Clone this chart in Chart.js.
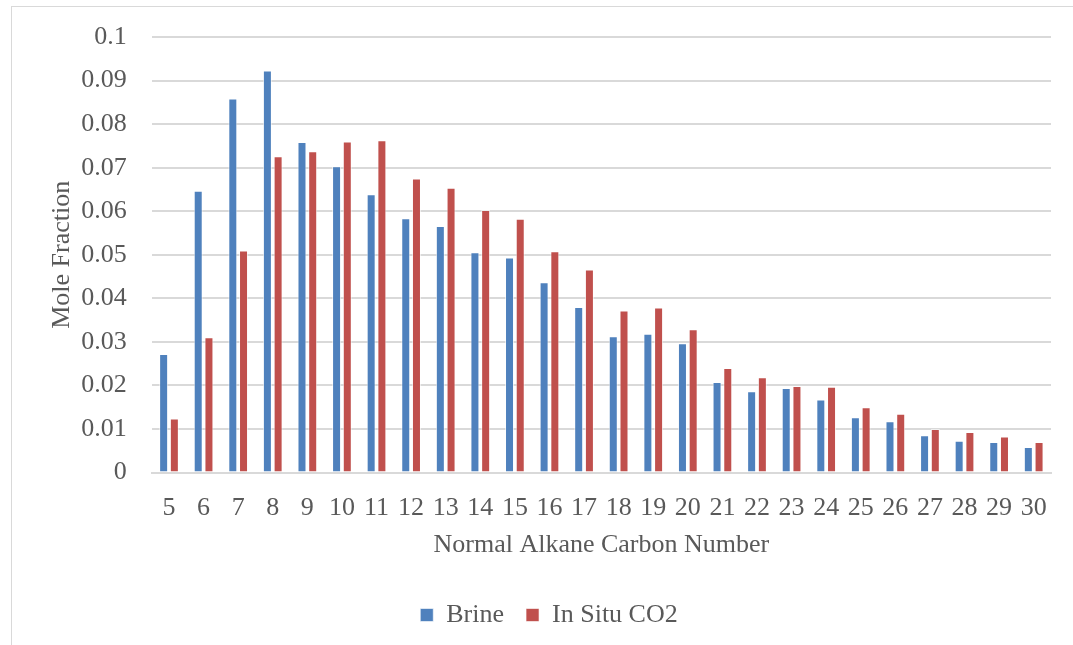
<!DOCTYPE html>
<html>
<head>
<meta charset="utf-8">
<script src="https://cdn.jsdelivr.net/npm/chart.js@4"></script>
<style>
  body { margin: 0; background: #fff; }
  #wrap {
    position: absolute; left: 11px; top: 6px;
    width: 1070px; height: 645px;
    border: 1px solid #d9d9d9;
  }
</style>
</head>
<body>
<div id="wrap"><canvas id="chart"></canvas></div>
<script>
// data
const carbonNumbers = ["5","6","7","8","9","10","11","12","13","14","15","16","17","18","19","20","21","22","23","24","25","26","27","28","29","30"];
const brine = [0.0272,0.0647,0.0859,0.0923,0.0759,0.0703,0.0639,0.0584,0.0566,0.0506,0.0494,0.0437,0.0380,0.0313,0.0319,0.0297,0.0208,0.0187,0.0194,0.0168,0.0127,0.0118,0.0086,0.0073,0.0070,0.0059];
const inSituCO2 = [0.0124,0.0311,0.0510,0.0726,0.0738,0.0760,0.0763,0.0675,0.0654,0.0603,0.0583,0.0508,0.0466,0.0372,0.0379,0.0329,0.0240,0.0219,0.0199,0.0197,0.0150,0.0135,0.0100,0.0093,0.0083,0.0070];
const yTicks = [0,0.01,0.02,0.03,0.04,0.05,0.06,0.07,0.08,0.09,0.1];

const font = "'Liberation Serif', 'Times New Roman', serif";
const grey = "#595959";

const ctx = document.getElementById("chart").getContext("2d");
new Chart(ctx, {
  type: "bar",
  data: {
    labels: carbonNumbers,
    datasets: [
      {
        label: "Brine",
        data: brine,
        backgroundColor: "#4f81bd",
        borderColor: "rgba(255,255,255,0.6)",
        borderWidth: 1,
        categoryPercentage: 0.62,
        barPercentage: 0.84,
      },
      {
        label: "In Situ CO2",
        data: inSituCO2,
        backgroundColor: "#c0504d",
        borderColor: "rgba(255,255,255,0.6)",
        borderWidth: 1,
        categoryPercentage: 0.62,
        barPercentage: 0.84,
      },
    ],
  },
  options: {
    responsive: true,
    maintainAspectRatio: false,
    animation: false,
    layout: { padding: { top: 30, right: 31, bottom: 14, left: 35 } },
    plugins: {
      tooltip: { enabled: false },
      legend: {
        position: "bottom",
        labels: {
          color: grey,
          font: { family: font, size: 26 },
          boxWidth: 13,
          boxHeight: 13,
          padding: 22,
        },
      },
    },
    scales: {
      x: {
        grid: { display: false },
        border: { color: "#d9d9d9", width: 2 },
        ticks: { color: grey, font: { family: font, size: 26 }, maxRotation: 0, autoSkip: false, padding: 12 },
        title: {
          display: true,
          text: "Normal Alkane Carbon Number",
          color: grey,
          font: { family: font, size: 26 },
          padding: { top: -6, bottom: 19 },
        },
      },
      y: {
        min: 0,
        max: 0.1,
        afterBuildTicks: (axis) => {
          axis.ticks = yTicks.map((v) => ({ value: v }));
        },
        // keep the tick padding from pushing the plot down
        afterFit: (axis) => {
          axis.paddingTop = 0;
          axis.paddingBottom = 0;
        },
        grid: { color: "#d9d9d9", lineWidth: 2, drawTicks: false },
        border: { display: false },
        ticks: {
          color: grey,
          font: { family: font, size: 26 },
          padding: 25,
          callback: (v) => String(+v.toFixed(2)),
        },
        title: {
          display: true,
          text: "Mole Fraction",
          color: grey,
          font: { family: font, size: 26 },
          padding: { top: 0, bottom: -22 },
        },
      },
    },
  },
});
</script>
</body>
</html>
